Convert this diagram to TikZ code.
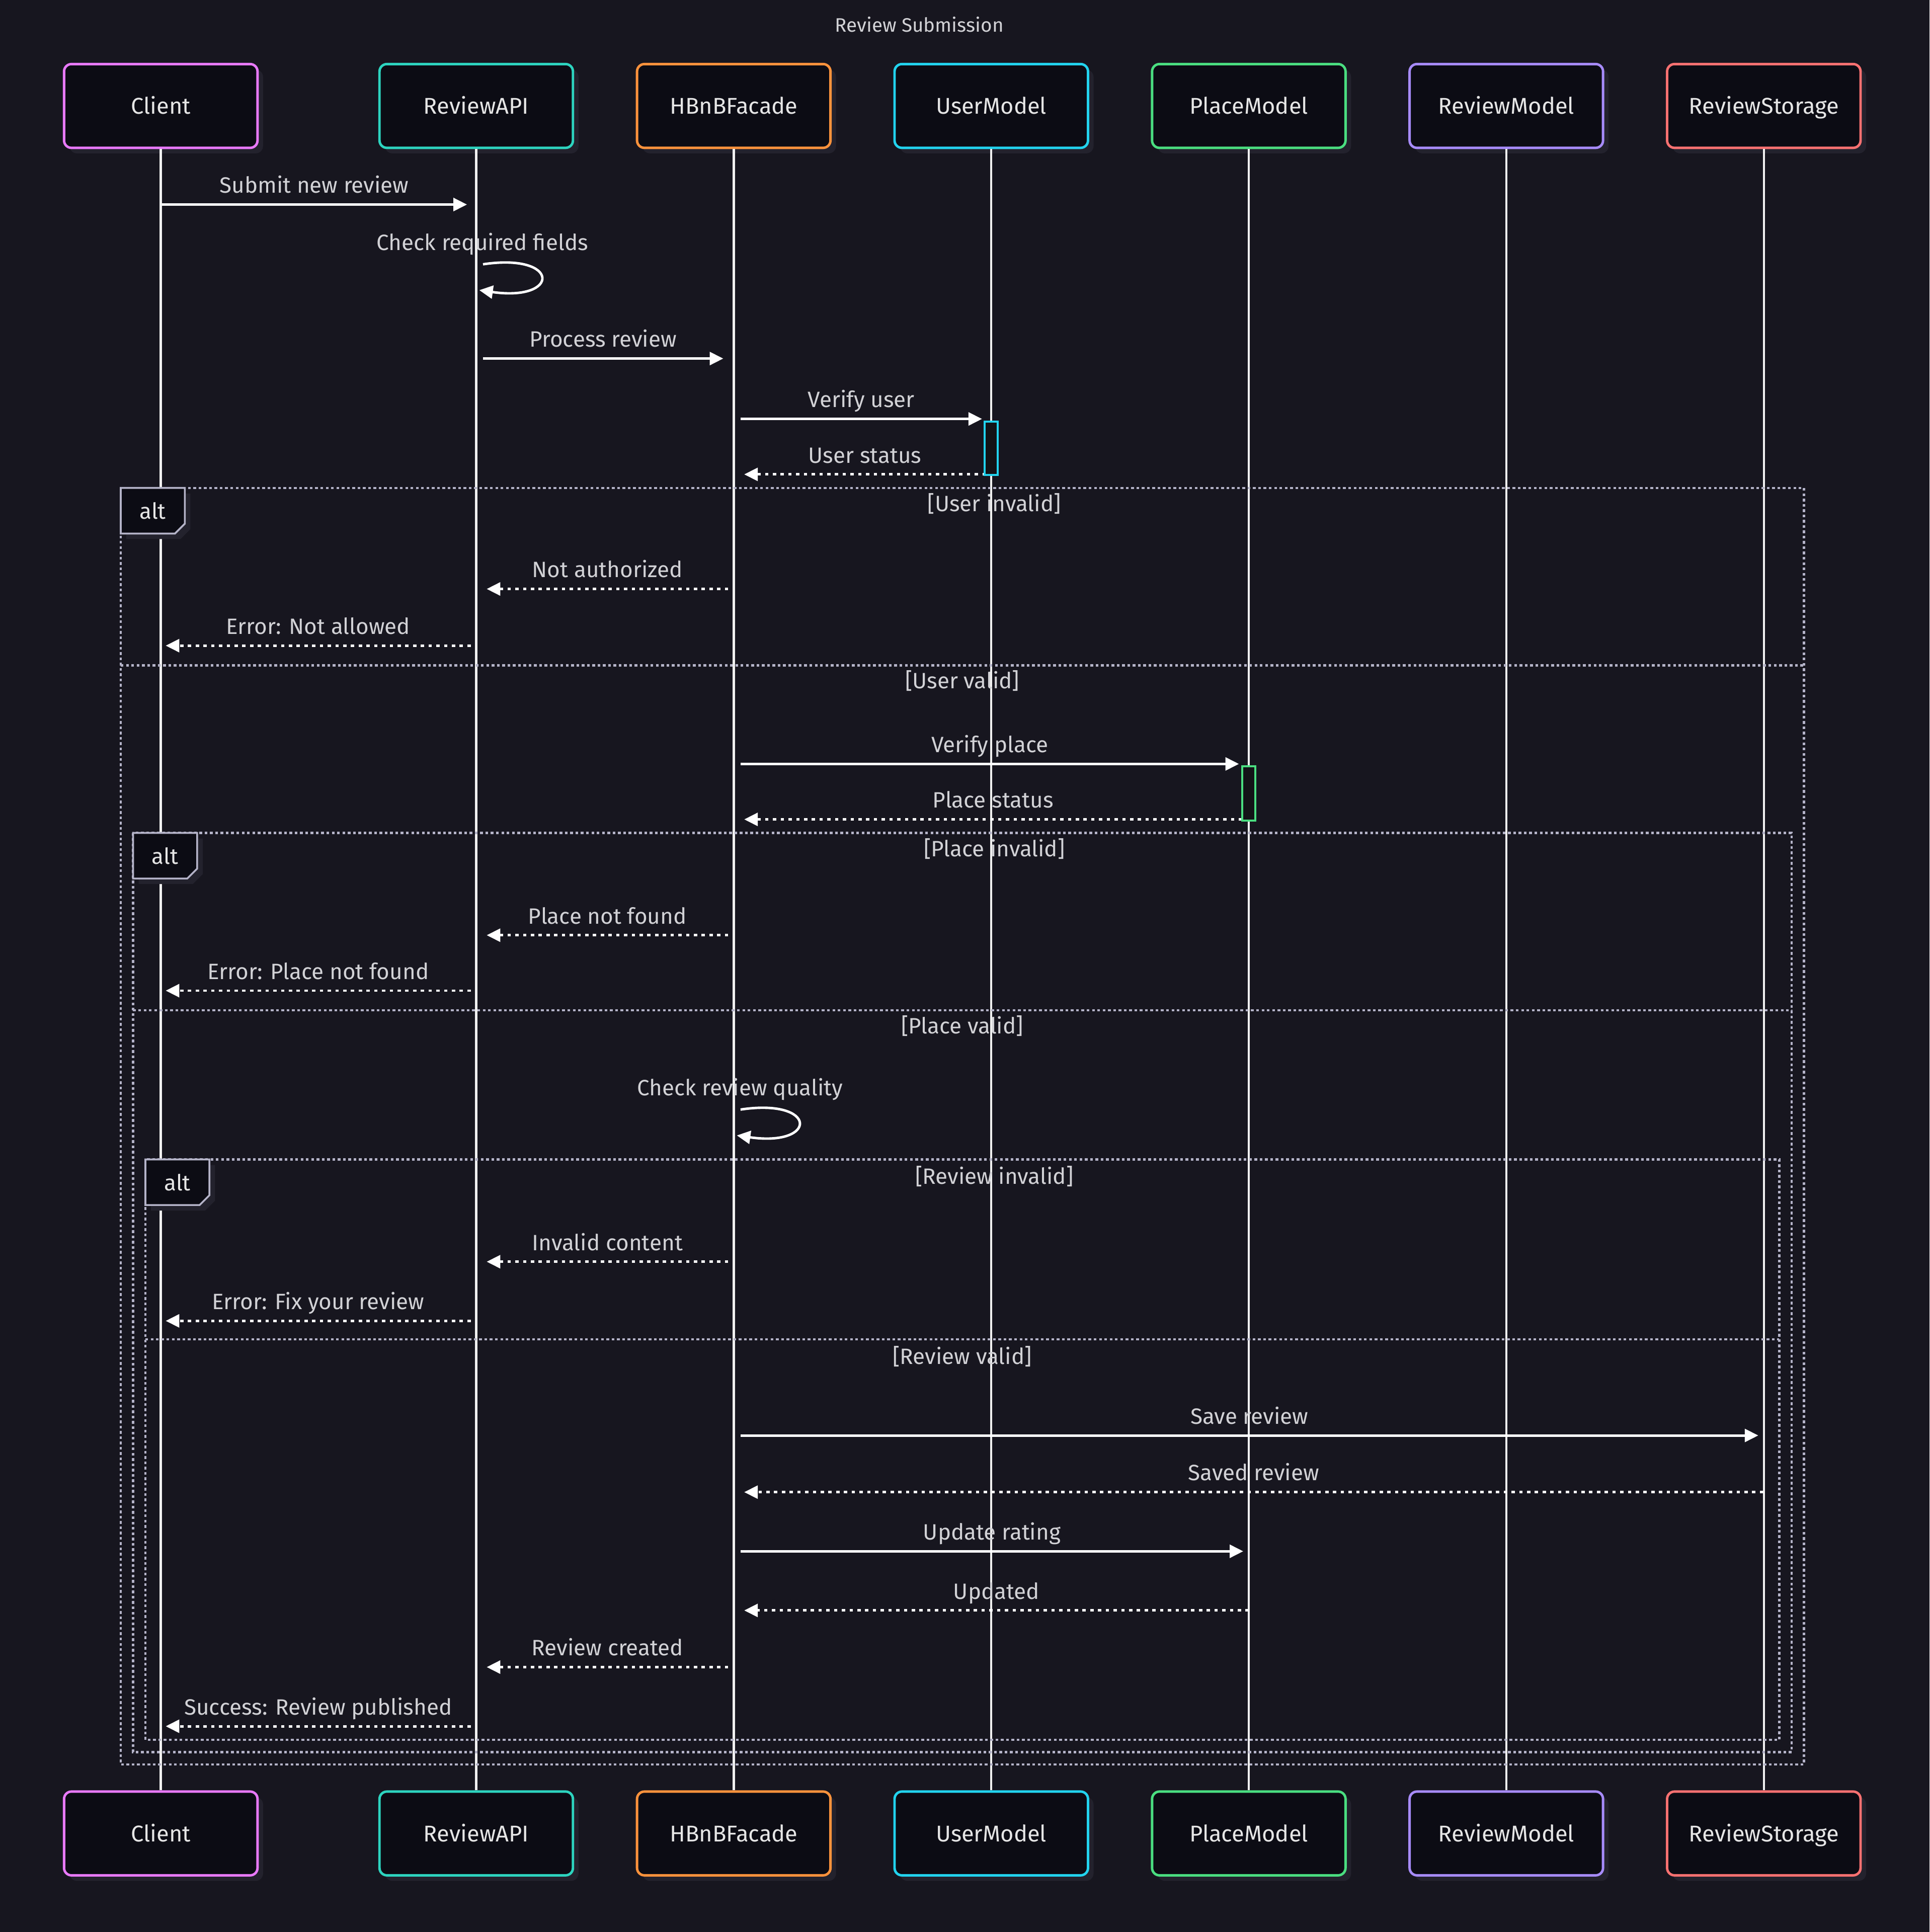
\documentclass[tikz,border=0pt]{standalone}
\usepackage{fontspec}
\setmainfont{Fira Sans}
\usetikzlibrary{arrows.meta,calc,shadows}
\definecolor{bgc}{HTML}{17161F}
\definecolor{boxfill}{HTML}{0C0C14}
\definecolor{shadowc}{HTML}{23222D}
\definecolor{framec}{HTML}{B4B3C8}
\definecolor{lblc}{HTML}{D2D2D6}
\definecolor{partc}{HTML}{E6E6E6}
\definecolor{actfill}{HTML}{131317}
\definecolor{cClient}{HTML}{E879F9}
\definecolor{cApi}{HTML}{2DD4BF}
\definecolor{cFac}{HTML}{FB923C}
\definecolor{cUser}{HTML}{22D3EE}
\definecolor{cPlace}{HTML}{4ADE80}
\definecolor{cRModel}{HTML}{A78BFA}
\definecolor{cStore}{HTML}{F87171}
\newcommand\msgfont{\fontsize{18}{22}\selectfont}
\newcommand\partfont{\fontsize{18.5}{22}\selectfont}
\newcommand\titlefont{\fontsize{15.8}{19}\selectfont}
\newcommand\Msg[7]{\draw[#1] ($(#2.south |- 0,#4)+(#5,0)$) -- node[lbl]{#7} ($(#3.south |- 0,#4)+(#6,0)$);}
\newcommand\SelfMsg[3]{%
  \node[lblfree] at ($(#1.south |- 0,#2)+(5,-11.5)$) {#3};
  \draw[msgsolid] ($(#1.south |- 0,#2)+(5.5,0)$) .. controls +(63,-9.5) and +(66,9.5) .. ($(#1.south |- 0,#2)+(2.5,21)$);}
\newcommand\AltBox[3]{%
  \fill[shadowc] (#1+4.5,#2+4.5) -- ++(52,0) -- ++(0,29) -- ++(-8,8) -- ++(-44,0) -- cycle;
  \filldraw[altbox] (#1,#2) -- ++(52,0) -- ++(0,29) -- ++(-8,8) -- ++(-44,0) -- cycle;
  \node[alttxt] (#3) at (#1+26,#2+25.3) {alt};}
\begin{document}
\begin{tikzpicture}[x=1pt,y=-1pt,
  part/.style={rectangle, rounded corners=6pt, line width=2pt, fill=boxfill,
    minimum width=157pt, minimum height=68pt, inner sep=0pt, text height=13pt, text depth=0pt,
    font=\partfont, text=partc,
    drop shadow={shadow xshift=4.5pt, shadow yshift=-4.5pt, fill=shadowc, opacity=1}},
  life/.style={draw=white!94!black, line width=1.8pt},
  msgsolid/.style={draw=white, line width=2pt, -{Triangle[length=11pt,width=10.5pt]}},
  msgdash/.style={draw=white, line width=2pt, dash pattern=on 2.7pt off 3.6pt, -{Triangle[length=11pt,width=10.5pt]}},
  lbl/.style={midway, anchor=base, yshift=9.3pt, font=\msgfont, text=lblc, inner sep=0pt},
  lblfree/.style={anchor=base, font=\msgfont, text=lblc, inner sep=0pt},
  guard/.style={anchor=base, font=\msgfont, text=lblc, inner sep=0pt},
  frame/.style={draw=framec, line width=1.8pt, dash pattern=on 2.2pt off 2.1pt},
  altbox/.style={fill=boxfill, draw=framec, line width=1.5pt},
  alttxt/.style={anchor=base, font=\msgfont, text=partc, inner sep=0pt},
  act/.style={rectangle, fill=actfill, line width=1.6pt, minimum width=10.6pt, inner sep=0pt}
]
\useasboundingbox (0,0) rectangle (1566,1568);
\fill[bgc] (0,0) rectangle (1566,1568);

\node[anchor=base, font=\titlefont, text=lblc, inner sep=0pt] (title) at (746,26) {Review Submission};

% participants
\foreach \n/\t/\x/\col in {c/Client/130.5/cClient, api/ReviewAPI/386.5/cApi, fac/HBnBFacade/595.5/cFac,
  um/UserModel/804.5/cUser, pm/PlaceModel/1013.5/cPlace, rm/ReviewModel/1222.5/cRModel, rs/ReviewStorage/1431.5/cStore}{
  \node[part, draw=\col] (\n) at (\x,86) {\t};
  \node[part, draw=\col] (\n2) at (\x,1488) {\t};
}

% lifelines
\foreach \n in {c,api,fac,um,pm,rm,rs}{
  \draw[life] (\n.south) -- (\n2.north);
}

% frames
\draw[frame] (98,396) rectangle (1464,1432);
\draw[frame] (98,540) -- (1464,540);
\draw[frame] (108,676) rectangle (1454,1422);
\draw[frame] (108,820) -- (1454,820);
\draw[frame] (118,941) rectangle (1444,1412);
\draw[frame] (118,1087) -- (1444,1087);
\AltBox{98}{396}{alt1}
\AltBox{108}{676}{alt2}
\AltBox{118}{941}{alt3}
\node[guard] (g1) at (807,415) {[User invalid]};
\node[guard] (g2) at (781,559) {[User valid]};
\node[guard] (g3) at (807,695) {[Place invalid]};
\node[guard] (g4) at (781,839) {[Place valid]};
\node[guard] (g5) at (807,961) {[Review invalid]};
\node[guard] (g6) at (781,1107) {[Review valid]};

% messages
\Msg{msgsolid}{c}{api}{166}{0.5}{-7.5}{Submit new review}
\SelfMsg{api}{214.5}{Check required fields}
\Msg{msgsolid}{api}{fac}{291}{5.5}{-8.5}{Process review}
\Msg{msgsolid}{fac}{um}{340}{5.5}{-7.5}{Verify user}
\Msg{msgdash}{um}{fac}{385}{-4.5}{8.5}{User status}
\Msg{msgdash}{fac}{api}{478}{-4.5}{8.5}{Not authorized}
\Msg{msgdash}{api}{c}{524}{-4.5}{4}{Error: Not allowed}
\Msg{msgsolid}{fac}{pm}{620}{5.5}{-8}{Verify place}
\Msg{msgdash}{pm}{fac}{665}{-5.5}{8.5}{Place status}
\Msg{msgdash}{fac}{api}{759}{-4.5}{8.5}{Place not found}
\Msg{msgdash}{api}{c}{804}{-4.5}{4}{Error: Place not found}
\SelfMsg{fac}{900.5}{Check review quality}
\Msg{msgdash}{fac}{api}{1024}{-4.5}{8.5}{Invalid content}
\Msg{msgdash}{api}{c}{1072}{-4.5}{4}{Error: Fix your review}
\Msg{msgsolid}{fac}{rs}{1165}{5.5}{-4.5}{Save review}
\Msg{msgdash}{rs}{fac}{1211}{-0.5}{8.5}{Saved review}
\Msg{msgsolid}{fac}{pm}{1259}{5.5}{-4.5}{Update rating}
\Msg{msgdash}{pm}{fac}{1307}{0}{8.5}{Updated}
\Msg{msgdash}{fac}{api}{1353}{-4.5}{8.5}{Review created}
\Msg{msgdash}{api}{c}{1401}{-4.5}{4}{Success: Review published}

% activations
\node[act, draw=cUser, minimum height=43.5pt] (uact) at (um.south |- 0,363.75) {};
\node[act, draw=cPlace, minimum height=44.2pt] (pact) at (pm.south |- 0,643.8) {};
\end{tikzpicture}
\end{document}
